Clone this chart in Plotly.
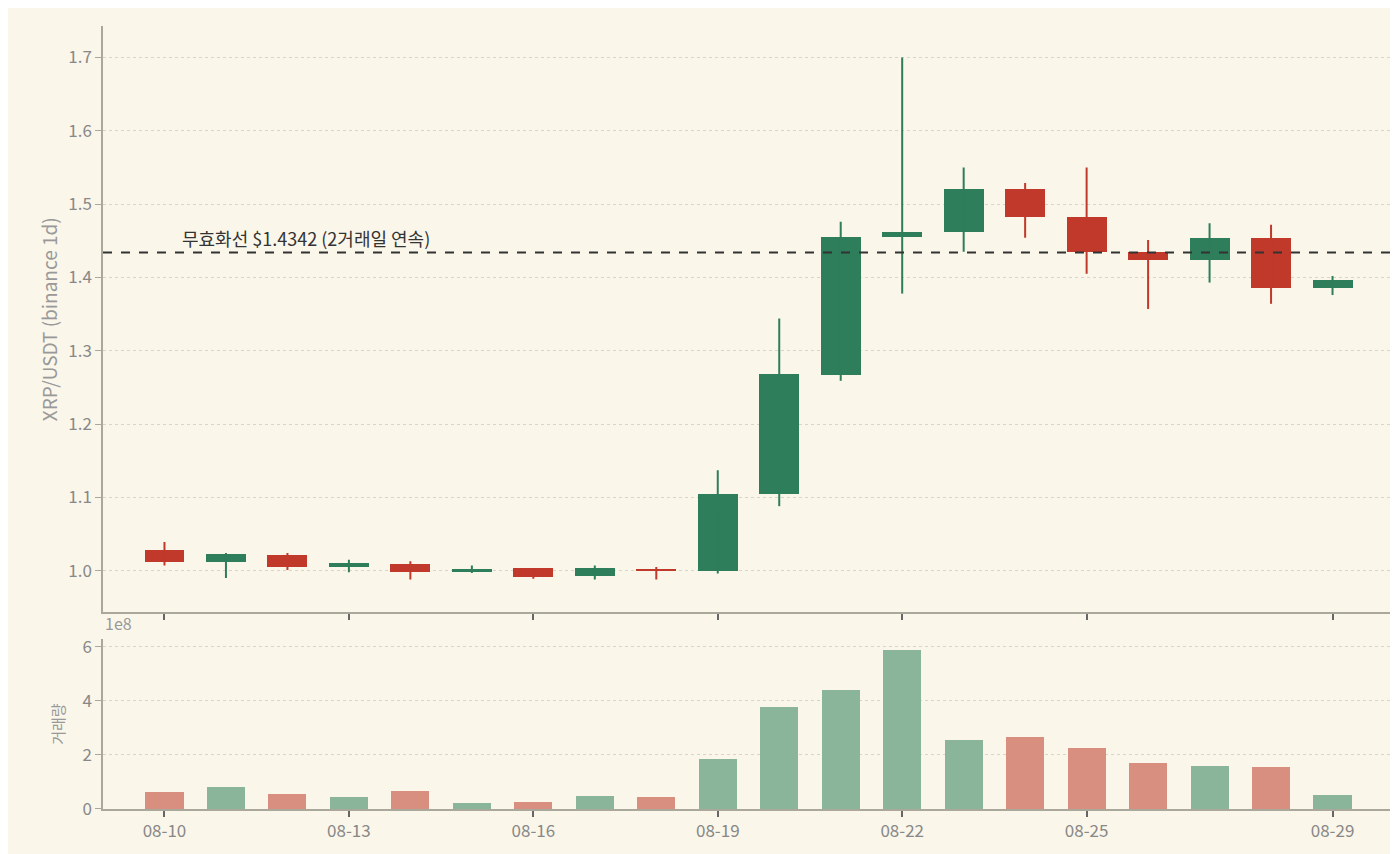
import plotly.graph_objects as go
from plotly.subplots import make_subplots

dates = ["2025-08-%02d" % d for d in range(10, 30)]
opens = [1.028, 1.012, 1.022, 1.005, 1.009, 0.998, 1.003, 0.993, 1.002, 1.000,
         1.104, 1.267, 1.455, 1.462, 1.521, 1.482, 1.435, 1.424, 1.454, 1.385]
highs = [1.039, 1.024, 1.024, 1.015, 1.013, 1.007, 1.003, 1.007, 1.005, 1.137,
         1.344, 1.476, 1.700, 1.550, 1.529, 1.550, 1.451, 1.474, 1.472, 1.402]
lows = [1.007, 0.990, 1.001, 0.998, 0.988, 0.997, 0.989, 0.988, 0.988, 0.996,
        1.088, 1.259, 1.378, 1.435, 1.454, 1.405, 1.357, 1.393, 1.364, 1.376]
closes = [1.012, 1.023, 1.005, 1.010, 0.998, 1.002, 0.992, 1.003, 0.999, 1.105,
          1.268, 1.455, 1.462, 1.521, 1.482, 1.435, 1.424, 1.454, 1.385, 1.397]
volumes = [0.62, 0.81, 0.55, 0.44, 0.66, 0.22, 0.26, 0.48, 0.44, 1.84,
           3.79, 4.41, 5.88, 2.54, 2.65, 2.24, 1.69, 1.58, 1.54, 0.51]
volumes = [v * 1e8 for v in volumes]
inval_level = 1.4342
inval_text = "무효화선 $1.4342 (2거래일 연속)"
tick_dates = ["2025-08-10", "2025-08-13", "2025-08-16", "2025-08-19", "2025-08-22", "2025-08-25", "2025-08-29"]
tick_text = ["08-10", "08-13", "08-16", "08-19", "08-22", "08-25", "08-29"]

GREEN = "#2e7d5b"
RED = "#c0392b"
GREEN_V = "#8ab59a"
RED_V = "#d98f80"
BG = "#faf6ea"
DAY = 86400000

up = [c >= o for o, c in zip(opens, closes)]

fig = make_subplots(rows=2, cols=1, shared_xaxes=False)

for is_up, col in [(True, GREEN), (False, RED)]:
    idx = [i for i in range(len(dates)) if up[i] == is_up]
    wx, wy = [], []
    for i in idx:
        wx += [dates[i], dates[i], None]
        wy += [lows[i], highs[i], None]
    fig.add_trace(go.Scatter(x=wx, y=wy, mode="lines", line=dict(color=col, width=2),
                             showlegend=False, hoverinfo="skip"), row=1, col=1)
    fig.add_trace(go.Bar(x=[dates[i] for i in idx],
                         base=[min(opens[i], closes[i]) for i in idx],
                         y=[max(abs(closes[i] - opens[i]), 0.003) for i in idx],
                         width=0.65 * DAY, marker=dict(color=col, line=dict(width=0)),
                         showlegend=False), row=1, col=1)

fig.add_trace(go.Bar(x=dates, y=volumes, width=0.62 * DAY,
                     marker=dict(color=[GREEN_V if u else RED_V for u in up], line=dict(width=0)),
                     showlegend=False), row=2, col=1)

fig.add_shape(type="line", xref="paper", x0=0, x1=1, yref="y", y0=inval_level, y1=inval_level,
              line=dict(color="#333333", width=2, dash="dash"))
fig.add_annotation(x="2025-08-10 06:00", y=inval_level, xref="x", yref="y", text=inval_text,
                   showarrow=False, xanchor="left", yanchor="bottom", yshift=-1,
                   font=dict(size=18, color="#333333"))
fig.add_annotation(x=0, y=1, xref="x2 domain", yref="y2 domain", text="1e8", showarrow=False,
                   xanchor="left", yanchor="bottom", yshift=2, font=dict(size=16, color="#999999"))

axis_common = dict(type="date", range=["2025-08-09 00:00", "2025-08-30 00:00"], tickvals=tick_dates,
                   showline=True, linecolor="#aaa89a", linewidth=1.5, ticks="outside",
                   ticklen=6, tickwidth=2, tickcolor="#666666", showgrid=False, zeroline=False)
fig.update_xaxes(**axis_common, showticklabels=False, domain=[0, 1], row=1, col=1)
fig.update_xaxes(**axis_common, ticktext=tick_text, tickfont=dict(size=17, color="#888888"), row=2, col=1)

fig.update_yaxes(domain=[0.251, 1], range=[0.943, 1.743], tickvals=[1.0, 1.1, 1.2, 1.3, 1.4, 1.5, 1.6, 1.7],
                 ticktext=["1.0", "1.1", "1.2", "1.3", "1.4", "1.5", "1.6", "1.7"],
                 showline=True, linecolor="#aaa89a", linewidth=1.5, ticks="outside", ticklen=6,
                 tickcolor="#aaa89a", showgrid=True, gridcolor="#d8d4c8", griddash="dot", zeroline=False,
                 title=dict(text="XRP/USDT (binance 1d)", font=dict(size=19, color="#999999"), standoff=6),
                 tickfont=dict(size=17, color="#888888"), row=1, col=1)
fig.update_yaxes(domain=[0, 0.217], range=[0, 6.29e8], tickvals=[0, 2e8, 4e8, 6e8],
                 ticktext=["0", "2", "4", "6"],
                 showline=True, linecolor="#aaa89a", linewidth=1.5, ticks="outside", ticklen=6,
                 tickcolor="#aaa89a", showgrid=True, gridcolor="#d8d4c8", griddash="dot", zeroline=False,
                 title=dict(text="거래량", font=dict(size=15, color="#999999"), standoff=14),
                 tickfont=dict(size=17, color="#888888"), row=2, col=1)

fig.update_layout(width=1398, height=854, margin=dict(l=95, r=12, t=12, b=53),
                  paper_bgcolor=BG, plot_bgcolor=BG, barmode="overlay", bargap=0,
                  font=dict(family="Noto Sans CJK KR", color="#888888"))

fig.write_html("out.html")
